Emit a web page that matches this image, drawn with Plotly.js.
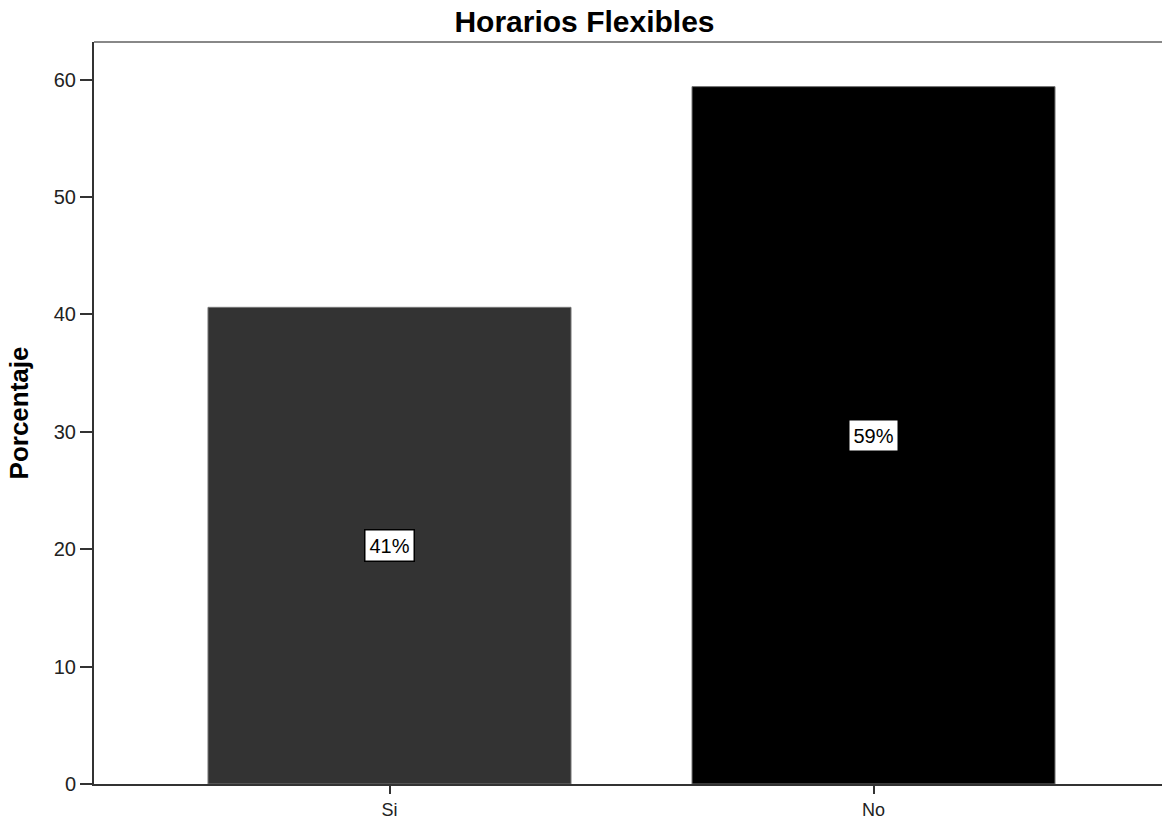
<!DOCTYPE html>
<html><head><meta charset="utf-8">
<script src="https://cdn.plot.ly/plotly-3.0.1.min.js"></script>
<style>html,body{margin:0;padding:0;background:#fff;}</style>
</head><body>
<div id="chart" style="width:1162px;height:819px;"></div>
<script>
const categories = ["Si", "No"];
const percentages = [40.6, 59.4];
const labels = ["41%", "59%"];
const barColors = ["#333333", "#000000"];
const yTicks = [0, 10, 20, 30, 40, 50, 60];

const FONT = "Liberation Sans, Arial, sans-serif";

const trace = {
  type: "bar",
  x: categories,
  y: percentages,
  width: 0.75,
  marker: { color: barColors, line: { color: "#777777", width: 1 } },
  hoverinfo: "skip"
};

const annotations = categories.map((c, i) => ({
  x: c, y: percentages[i] / 2, xref: "x", yref: "y",
  text: labels[i], showarrow: false,
  font: { family: FONT, size: 20, color: "#000" },
  bgcolor: "#ffffff", bordercolor: "#000000", borderwidth: 1.5, borderpad: 4
}));

const layout = {
  width: 1162, height: 819,
  margin: { l: 94, r: 0, t: 42, b: 35 },
  paper_bgcolor: "#ffffff", plot_bgcolor: "#ffffff",
  showlegend: false,
  title: {
    text: "<b>Horarios Flexibles</b>",
    font: { family: FONT, size: 30, color: "#000" },
    x: 0.503, xanchor: "center", y: 1 - 21 / 819, yanchor: "middle"
  },
  xaxis: {
    type: "category",
    range: [-0.6105, 1.596],
    showline: true, linecolor: "#333333", linewidth: 2,
    ticks: "outside", ticklen: 8, tickwidth: 2, tickcolor: "#333333",
    showgrid: false, zeroline: false,
    tickfont: { family: FONT, size: 18, color: "#222" },
    fixedrange: true
  },
  yaxis: {
    range: [0, 63.2],
    tickvals: yTicks,
    showline: true, linecolor: "#333333", linewidth: 2,
    ticks: "outside", ticklen: 12, tickwidth: 2, tickcolor: "#333333",
    showgrid: false, zeroline: false,
    tickfont: { family: FONT, size: 20, color: "#222" },
    title: {
      text: "<b>Porcentaje</b>",
      font: { family: FONT, size: 26, color: "#000" },
      standoff: 18
    },
    automargin: false,
    fixedrange: true
  },
  shapes: [{
    type: "line", xref: "paper", yref: "paper", x0: 0, x1: 1, y0: 1, y1: 1,
    line: { color: "#888888", width: 2 }
  }],
  annotations: annotations
};

Plotly.newPlot("chart", [trace], layout, { displayModeBar: false, staticPlot: true });
</script>
</body></html>
